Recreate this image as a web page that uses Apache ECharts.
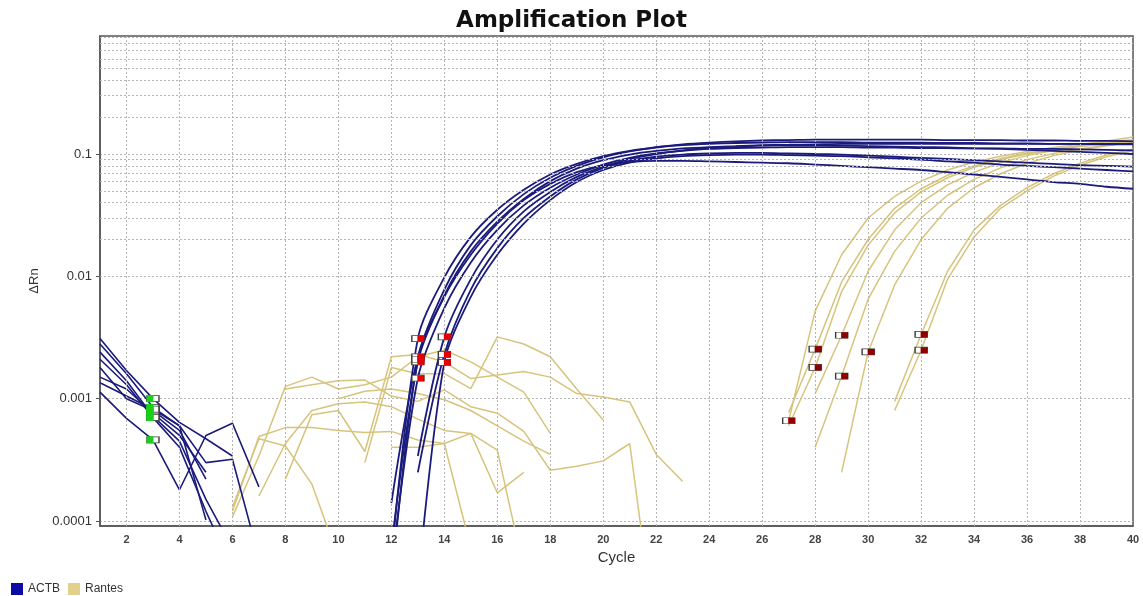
<!DOCTYPE html>
<html><head><meta charset="utf-8">
<script src="https://cdn.jsdelivr.net/npm/echarts@6/dist/echarts.min.js"></script>
<style>html,body{margin:0;padding:0;background:#fff}#c{width:1143px;height:596px}</style>
</head><body><div id="c"></div>
<script>
// ---- axis ticks ----
const xTickLabels = [2,4,6,8,10,12,14,16,18,20,22,24,26,28,30,32,34,36,38,40];
const xGridCycles = [2,4,6,8,10,12,14,16,18,20,22,24,26,28,30,32,34,36,38];
const yTickValues = [0.0001,0.001,0.01,0.1];
const yTickExponents = [-4,-3,-2,-1];
const yTickLabels = ['0.0001','0.001','0.01','0.1'];
const yMinorMultipliers = [2,3,4,5,6,7,8,9];
const yMinorDecades = [0.0001,0.001,0.01,0.1];

// ---- ACTB: early (cycle 1 onward) segments ----
const actbEarly1 = [0.0031,0.0017,0.0010,0.00064,0.00047,0.00034];
const actbEarly2 = [0.00113,0.00069,0.00046,0.00018,0.0005,0.00063,0.00019];
const actbEarly3 = [0.0018,0.0010,0.00080,0.00055,0.00022];
const actbEarly4 = [0.0015,0.0012,0.00076,0.00050,0.00025];
const actbEarly5 = [0.0028,0.0016,0.00085,0.00060,0.00030,0.00032,0.00005];
const actbEarly6 = [0.0024,0.0014,0.00072,0.00045,0.00015,0.00006];
const actbEarly7 = [0.00135,0.00105,0.00082,0.00060,0.000102];
const actbEarly8 = [0.0021,0.0013,0.00070,0.00040,0.00012,0.00004];

// ---- ACTB: amplification segments ----
const actbLateStart = [12,12,12,12,12,13,13,13];
const actbLate1 = [0.00014,0.0022,0.0078,0.018,0.031,0.047,0.064,0.080,0.094,0.105,0.114,0.120,0.124,0.127,0.129,0.130,0.131,0.131,0.131,0.131,0.131,0.130,0.130,0.130,0.129,0.129,0.128,0.128,0.127];
const actbLate2 = [0.00005,0.0031,0.0098,0.021,0.035,0.051,0.068,0.083,0.096,0.106,0.113,0.118,0.121,0.123,0.124,0.125,0.125,0.125,0.124,0.124,0.124,0.123,0.123,0.122,0.122,0.121,0.121,0.120,0.120];
const actbLate3 = [0.00004,0.00147,0.0055,0.013,0.024,0.038,0.053,0.068,0.082,0.093,0.101,0.106,0.110,0.112,0.113,0.114,0.114,0.114,0.113,0.113,0.112,0.112,0.111,0.111,0.110,0.110,0.109,0.108,0.107];
const actbLate4 = [0.00006,0.0020,0.0070,0.016,0.028,0.043,0.060,0.076,0.089,0.099,0.106,0.111,0.114,0.116,0.118,0.119,0.120,0.121,0.121,0.121,0.121,0.121,0.121,0.121,0.121,0.121,0.121,0.121,0.121];
const actbLate5 = [0.00003,0.0021,0.0068,0.015,0.027,0.042,0.057,0.071,0.081,0.086,0.088,0.088,0.087,0.086,0.085,0.084,0.082,0.080,0.078,0.076,0.074,0.071,0.068,0.065,0.062,0.059,0.057,0.054,0.052];
const actbLate6 = [0.00034,0.0032,0.0095,0.020,0.034,0.049,0.065,0.079,0.091,0.100,0.107,0.112,0.115,0.117,0.118,0.118,0.117,0.116,0.115,0.114,0.113,0.111,0.110,0.108,0.106,0.104,0.102,0.100];
const actbLate7 = [0.00025,0.0023,0.0078,0.017,0.030,0.045,0.062,0.077,0.088,0.095,0.099,0.101,0.102,0.102,0.101,0.100,0.099,0.097,0.095,0.093,0.091,0.089,0.087,0.085,0.083,0.081,0.080,0.079];
const actbLate8 = [0.00003,0.00198,0.0068,0.015,0.027,0.042,0.059,0.074,0.085,0.092,0.096,0.098,0.099,0.099,0.098,0.097,0.096,0.094,0.092,0.090,0.087,0.085,0.082,0.080,0.078,0.076,0.074,0.072];
const actbBaselineStart = 3;
const actbBaselineEnd = [13,13,13,13,13,14,14,14];

// ---- Rantes: noisy background segments ----
const rantesNoiseStart = [6,7,6,6,8,8,11,10,12];
const rantesNoise1 = [0.00012,0.00049,0.00058,0.00058,0.00055,0.00053,0.00054,0.00046,0.00043,0.00052,0.00017,0.00025];
const rantesNoise2 = [0.00016,0.00043,0.0008,0.00091,0.00094,0.00086,0.00068,0.00055,0.00052,0.00038,0.00004];
const rantesNoise3 = [0.000108,0.00034,0.00126,0.0015,0.0012,0.0013,0.0015,0.0022,0.0025,0.0020,0.0015,0.00113,0.00052];
const rantesNoise4 = [0.00013,0.00047,0.00041,0.0002,0.00005];
const rantesNoise5 = [0.00022,0.00074,0.0008,0.00037,0.0022,0.0023,0.0020,0.00146,0.00156,0.00167,0.0015,0.0011,0.00103,0.00094,0.00035,0.00021];
const rantesNoise6 = [0.0012,0.0013,0.0014,0.00142,0.00105,0.00095,0.00118,0.00086,0.00076,0.00054,0.00026,0.00028,0.00031,0.00043,0.00001];
const rantesNoise7 = [0.0003,0.0018,0.0016,0.0016,0.00121,0.0032,0.0028,0.0022,0.0012,0.00067];
const rantesNoise8 = [0.0010,0.00115,0.0012,0.0011,0.00098,0.0008,0.0006,0.00045,0.00035];
const rantesNoise9 = [0.0004,0.0004,0.00043,0.00006];

// ---- Rantes: amplification segments ----
const rantesRiseStart = [27,27,27,28,28,29,31,31];
const rantesRise1 = [0.00066,0.0052,0.015,0.030,0.045,0.060,0.074,0.086,0.096,0.105,0.113,0.120,0.126,0.131];
const rantesRise2 = [0.00077,0.00254,0.0090,0.020,0.036,0.052,0.067,0.080,0.092,0.102,0.110,0.117,0.123,0.128];
const rantesRise3 = [0.0006,0.0018,0.0075,0.018,0.033,0.049,0.064,0.078,0.090,0.100,0.108,0.115,0.121,0.126];
const rantesRise4 = [0.0011,0.0033,0.011,0.024,0.040,0.056,0.071,0.085,0.097,0.107,0.118,0.128,0.138];
const rantesRise5 = [0.0004,0.00153,0.0065,0.016,0.030,0.046,0.062,0.077,0.090,0.101,0.110,0.118,0.125];
const rantesRise6 = [0.00025,0.00241,0.0085,0.020,0.036,0.053,0.069,0.084,0.097,0.108,0.117,0.125];
const rantesRise7 = [0.00095,0.00335,0.011,0.024,0.038,0.053,0.069,0.084,0.098,0.110];
const rantesRise8 = [0.0008,0.00249,0.0095,0.021,0.036,0.050,0.066,0.081,0.095,0.107];
const rantesBaselineEnd = [27,28,28,29,29,30,32,32];

// ---- build ----
const ACTB_COLOR = '#1b1b7c';
const RANTES_COLOR = '#d7c47c';
const seg = (start, vals) => vals.map((v, i) => [start + i, v]);
const at = (start, vals, c) => [c, vals[c - start]];

const actbEarly = [actbEarly1,actbEarly2,actbEarly3,actbEarly4,actbEarly5,actbEarly6,actbEarly7,actbEarly8];
const actbLate = [actbLate1,actbLate2,actbLate3,actbLate4,actbLate5,actbLate6,actbLate7,actbLate8];
const rantesNoise = [rantesNoise1,rantesNoise2,rantesNoise3,rantesNoise4,rantesNoise5,rantesNoise6,rantesNoise7,rantesNoise8,rantesNoise9];
const rantesRise = [rantesRise1,rantesRise2,rantesRise3,rantesRise4,rantesRise5,rantesRise6,rantesRise7,rantesRise8];

const lineBase = {type:'line', showSymbol:false, symbol:'none', silent:true, z:3};
const series = [];

const gridMarks = [];
xGridCycles.forEach(x => gridMarks.push({xAxis:x}));
yMinorDecades.forEach(d => yMinorMultipliers.forEach(m => gridMarks.push({yAxis:+(d*m).toPrecision(3)})));
series.push({type:'line', name:'grid', data:[], silent:true, z:1,
  markLine:{silent:true, symbol:['none','none'], label:{show:false}, animation:false,
    lineStyle:{color:'#b4b4b4', type:[2,2], width:1}, data:gridMarks}});

rantesNoise.forEach((arr, i) => series.push(Object.assign({}, lineBase, {name:'Rantes',
  data:seg(rantesNoiseStart[i], arr), lineStyle:{color:RANTES_COLOR, width:1.5}, itemStyle:{color:RANTES_COLOR}})));
rantesRise.forEach((arr, i) => series.push(Object.assign({}, lineBase, {name:'Rantes',
  data:seg(rantesRiseStart[i], arr), lineStyle:{color:RANTES_COLOR, width:1.5}, itemStyle:{color:RANTES_COLOR}})));
actbEarly.forEach(arr => series.push(Object.assign({}, lineBase, {name:'ACTB', z:4,
  data:seg(1, arr), lineStyle:{color:ACTB_COLOR, width:1.6}, itemStyle:{color:ACTB_COLOR}})));
actbLate.forEach((arr, i) => series.push(Object.assign({}, lineBase, {name:'ACTB', z:4, smooth:0.3,
  data:seg(actbLateStart[i], arr), lineStyle:{color:ACTB_COLOR, width:1.8}, itemStyle:{color:ACTB_COLOR}})));

// baseline markers
const greenPts = actbEarly.map(arr => at(1, arr, actbBaselineStart));
const actbRedPts = actbLate.map((arr, i) => at(actbLateStart[i], arr, actbBaselineEnd[i]));
const rantesRedPts = rantesRise.map((arr, i) => at(rantesRiseStart[i], arr, rantesBaselineEnd[i]));
const allMarkPts = greenPts.concat(actbRedPts, rantesRedPts);
const markerBase = {type:'scatter', silent:true, symbol:'rect'};
series.push(Object.assign({}, markerBase, {name:'mk', z:10, symbolSize:[12,6], data:allMarkPts,
  itemStyle:{color:'#ffffff', borderColor:'#3a3a3a', borderWidth:1, opacity:1}}));
series.push(Object.assign({}, markerBase, {name:'mkg', z:11, symbolSize:[7,7], symbolOffset:[-3,0], data:greenPts,
  itemStyle:{color:'#18d018', opacity:1}}));
series.push(Object.assign({}, markerBase, {name:'mkr', z:11, symbolSize:[7,6], symbolOffset:[3,0], data:actbRedPts,
  itemStyle:{color:'#e40000', opacity:1}}));
series.push(Object.assign({}, markerBase, {name:'mkd', z:11, symbolSize:[7,6], symbolOffset:[3,0], data:rantesRedPts,
  itemStyle:{color:'#8c0000', opacity:1}}));

const chart = echarts.init(document.getElementById('c'), null, {renderer:'canvas'});
chart.setOption({
  animation:false,
  backgroundColor:'#ffffff',
  textStyle:{fontFamily:'Liberation Sans, Arial, sans-serif'},
  title:{text:'Amplification Plot', left:'center', top:5,
    textStyle:{fontSize:23, fontWeight:'bold', color:'#111', fontFamily:'DejaVu Sans, sans-serif'}},
  legend:{data:[{name:'ACTB', itemStyle:{color:'#0c0ca6'}}, {name:'Rantes', itemStyle:{color:'#e3d08a'}}],
    left:6, top:578, icon:'rect', itemWidth:12, itemHeight:12, itemGap:8,
    textStyle:{fontSize:12, color:'#333'}, selectedMode:false},
  grid:{left:100, right:10, top:36, bottom:70, show:true, borderColor:'#555', borderWidth:1.5, backgroundColor:'#fff'},
  xAxis:{type:'value', min:1, max:40, interval:1,
    name:'Cycle', nameLocation:'middle', nameGap:24, nameTextStyle:{fontSize:15, color:'#333'},
    axisLine:{show:true, lineStyle:{color:'#555', width:1.5}},
    axisTick:{show:false},
    splitLine:{show:false},
    axisLabel:{margin:8, fontSize:11, fontWeight:'bold', color:'#444',
      formatter: v => xTickLabels.includes(v) ? String(v) : ''}},
  yAxis:{type:'log', logBase:10, min:0.000091, max:0.922,
    name:'\u0394Rn', nameLocation:'middle', nameGap:58, nameTextStyle:{fontSize:13, color:'#333'},
    axisLine:{show:true, lineStyle:{color:'#555', width:1.5}},
    axisTick:{show:true, length:4, lineStyle:{color:'#555'}, customValues:yTickValues},
    splitLine:{show:true, lineStyle:{color:'#b4b4b4', type:[2,2], width:1}},
    minorTick:{show:false}, minorSplitLine:{show:false},
    axisLabel:{margin:8, fontSize:13, color:'#333',
      formatter: v => { const e = Math.log10(v); const r = Math.round(e);
        if (Math.abs(e - r) > 1e-6) return ''; const k = yTickExponents.indexOf(r);
        return k >= 0 ? yTickLabels[k] : ''; }}},
  series: series
});
</script>
</body></html>
